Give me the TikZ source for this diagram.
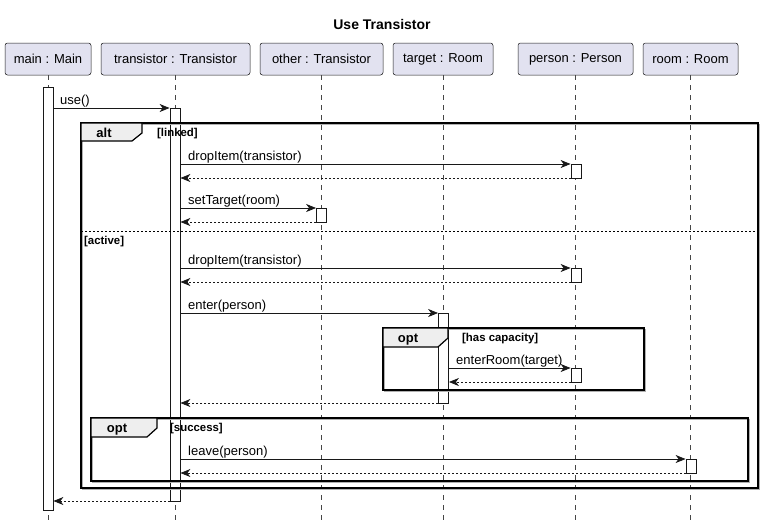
\documentclass[tikz,border=0pt]{standalone}
\usepackage{fontspec}
\setmainfont{Liberation Sans}
\usetikzlibrary{arrows.meta,calc}
\definecolor{partfill}{HTML}{E2E2F0}
\definecolor{partdraw}{HTML}{181818}
\definecolor{tabfill}{HTML}{EEEEEE}
\definecolor{shadowc}{HTML}{B0B0B0}
\begin{document}
\begin{tikzpicture}[x=1pt,y=-1pt,
  part/.style={draw=partdraw, fill=partfill, rounded corners=2.5pt, line width=0.5pt,
    font=\fontsize{13}{15}\selectfont, minimum height=32pt, inner sep=0pt},
  life/.style={draw=partdraw!80, dash pattern=on 5pt off 5pt, line width=0.5pt},
  act/.style={draw=partdraw, fill=white, line width=0.8pt, inner sep=0pt, minimum width=10pt, anchor=north},
  msg/.style={-{Stealth[length=10pt,width=8pt,inset=3pt]}, line width=0.8pt, draw=partdraw},
  ret/.style={msg, dash pattern=on 2pt off 2pt},
  mlabel/.style={font=\fontsize{13}{15}\selectfont, anchor=base west, inner sep=0pt},
  grp/.style={draw=black, line width=1.5pt},
  grpshadow/.style={draw=shadowc, line width=1.2pt},
  tab/.style={draw=black, line width=1.2pt, fill=tabfill},
  grplabel/.style={font=\bfseries\fontsize{11.4}{13}\selectfont, inner sep=0pt, anchor=base west},
  tablabel/.style={font=\bfseries\fontsize{13}{15}\selectfont, inner sep=0pt, anchor=base},
]
\useasboundingbox (0,0) rectangle (764,525);

% title
\node[font=\bfseries\fontsize{14}{16}\selectfont, anchor=base, inner sep=0pt] (title) at (382,29) {Use Transistor};

% participants
\node[part, minimum width=86pt]  (pmain) at (48,59)    {main : Main};
\node[part, minimum width=149pt] (ptr)   at (175.5,59) {transistor : Transistor};
\node[part, minimum width=123pt] (poth)  at (321.5,59) {other : Transistor};
\node[part, minimum width=100pt] (ptgt)  at (443,59)   {target : Room};
\node[part, minimum width=115pt] (pper)  at (575.5,59) {person : Person};
\node[part, minimum width=95pt]  (proom) at (690.5,59) {room : Room};

% lifelines
\foreach \p in {pmain,ptr,poth,ptgt,pper,proom}{
  \coordinate (\p end) at (\p.south |- 0,520);
  \draw[life] (\p.south) -- (\p end);
}

% activations
\node[act, minimum height=423pt] (amain) at (48,87) {};
\node[act, minimum height=393pt] (atr)   at (175,108) {};
\node[act, minimum height=14pt]  (aper1) at (576,164) {};
\node[act, minimum height=14pt]  (aoth)  at (321.5,208) {};
\node[act, minimum height=14pt]  (aper2) at (576,268) {};
\node[act, minimum height=90pt]  (atgt)  at (443.5,313) {};
\node[act, minimum height=14pt]  (aper3) at (576,368) {};
\node[act, minimum height=14pt]  (aroom) at (691,459) {};

% alt group
\draw[grpshadow] (82.5,124.5) rectangle (759.5,489.5);
\draw[grp] (81,123) rectangle (758,488);
\draw[tab] (81,123) -- (142,123) -- (142,133) -- (132,141) -- (81,141) -- cycle;
\node[tablabel] (altl) at (104,137) {alt};
\node[grplabel] (altc) at (157,136.5) {[linked]};
\draw[line width=0.8pt, dash pattern=on 2pt off 2pt] (81,231) coordinate (divl) -- (758,231) coordinate (divr);
\node[grplabel] (altc2) at (84,244) {[active]};

% opt has capacity
\draw[grpshadow] (384.5,329.5) rectangle (645.5,391.5);
\draw[grp] (383,328) rectangle (644,390);
\draw[tab] (383,328) -- (448,328) -- (448,338) -- (438,347) -- (383,347) -- cycle;
\node[tablabel] (optl1) at (408,342) {opt};
\node[grplabel] (optc1) at (462,341.5) {[has capacity]};

% opt success
\draw[grpshadow] (92.5,419.5) rectangle (749.5,482.5);
\draw[grp] (91,418) rectangle (748,481);
\draw[tab] (91,418) -- (157,418) -- (157,428) -- (147,437) -- (91,437) -- cycle;
\node[tablabel] (optl2) at (117,432) {opt};
\node[grplabel] (optc2) at (170,431.5) {[success]};

% messages
\draw[msg] (amain.east |- 0,108) -- (atr.west |- 0,108);
\node[mlabel] (l1) at (60,104) {use()};

\draw[msg] (atr.east |- 0,164) -- (aper1.west |- 0,164);
\node[mlabel] (l2) at (188,160) {dropItem(transistor)};
\draw[ret] (aper1.west |- 0,178) -- (atr.east |- 0,178);

\draw[msg] (atr.east |- 0,208) -- (aoth.west |- 0,208);
\node[mlabel] (l3) at (188,204) {setTarget(room)};
\draw[ret] (aoth.west |- 0,222) -- (atr.east |- 0,222);

\draw[msg] (atr.east |- 0,268) -- (aper2.west |- 0,268);
\node[mlabel] (l4) at (188,264) {dropItem(transistor)};
\draw[ret] (aper2.west |- 0,282) -- (atr.east |- 0,282);

\draw[msg] (atr.east |- 0,313) -- (atgt.west |- 0,313);
\node[mlabel] (l5) at (188,309) {enter(person)};

\draw[msg] (atgt.east |- 0,368) -- (aper3.west |- 0,368);
\node[mlabel] (l6) at (456,364) {enterRoom(target)};
\draw[ret] (aper3.west |- 0,382) -- (atgt.east |- 0,382);

\draw[ret] (atgt.west |- 0,403) -- (atr.east |- 0,403);

\draw[msg] (atr.east |- 0,459) -- (aroom.west |- 0,459);
\node[mlabel] (l7) at (188,455) {leave(person)};
\draw[ret] (aroom.west |- 0,473) -- (atr.east |- 0,473);

\draw[ret] (atr.west |- 0,501) -- (amain.east |- 0,501);
\end{tikzpicture}
\end{document}
